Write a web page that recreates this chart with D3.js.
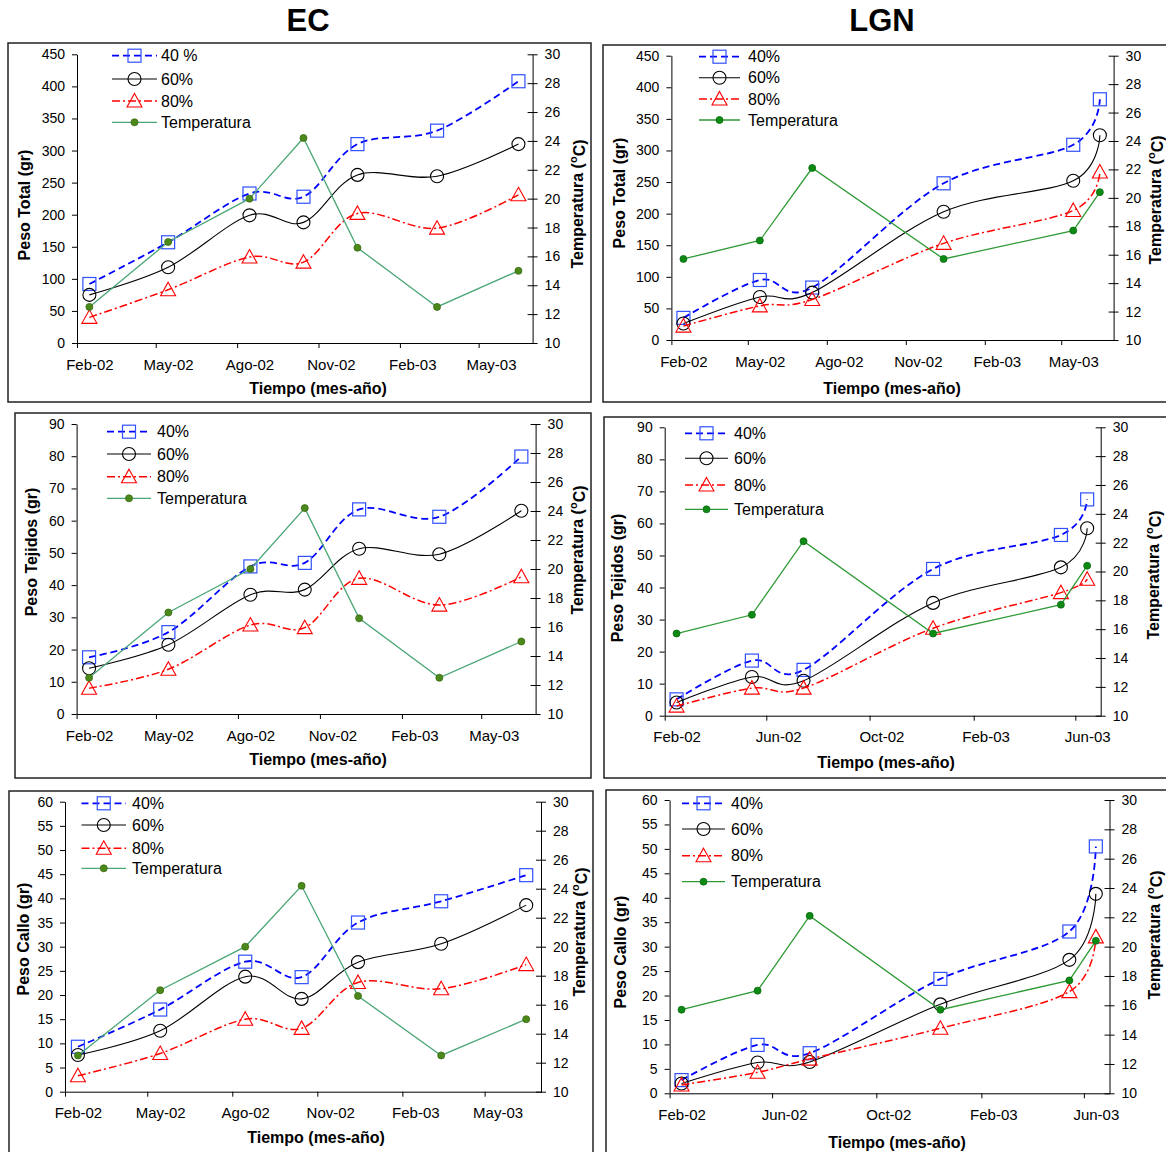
<!DOCTYPE html>
<meta charset="utf-8">
<style>
	body { margin: 0; background: white; }
	text { font-family: Arial, "Liberation Sans", sans-serif; fill: black; }
	.frame { fill: none; stroke: #222; stroke-width: 1.5px; }
	.axis path, .axis line { stroke: black; stroke-width: 1px; }
	.axis text { font-family: Arial, "Liberation Sans", sans-serif; font-size: 14px; }
	.xaxis text { font-size: 15px; }
	.title { font-size: 31px; font-weight: bold; }
	.axislabel { font-size: 16px; font-weight: bold; }
	.legend text { font-size: 16px; }
</style>
<html>
<body>
<script src="https://d3js.org/d3.v7.min.js"></script>
<script>
	var width = 1166;
	var height = 1152;

	// fechas de muestreo
	var ecDates = ["2002-02-15","2002-05-15","2002-08-15","2002-10-15","2002-12-15","2003-03-15","2003-06-15"];
	var lgnDates = ["2002-02-15","2002-05-15","2002-07-15","2002-12-15","2003-05-15","2003-06-15"];

	// EC
	var ecTotal40 = [92, 157, 233, 228, 310, 331, 408];
	var ecTotal60 = [75, 118, 199, 188, 262, 260, 310];
	var ecTotal80 = [40, 83, 134, 126, 202, 179, 231];
	var ecTejidos40 = [17.6, 25.4, 45.8, 46.9, 63.5, 61.2, 79.9];
	var ecTejidos60 = [14.2, 21.5, 37.0, 38.6, 51.3, 49.6, 63.1];
	var ecTejidos80 = [8.0, 13.9, 27.6, 26.8, 42.1, 33.8, 42.6];
	var ecCallo40 = [9.3, 17.0, 26.9, 23.7, 35.0, 39.4, 44.8];
	var ecCallo60 = [7.6, 12.6, 23.8, 19.2, 26.8, 30.6, 38.6];
	var ecCallo80 = [3.3, 7.9, 15.0, 13.1, 22.6, 21.3, 26.3];
	var ecTemp = [12.5, 17.0, 20.0, 24.2, 16.6, 12.5, 15.0];

	// LGN
	var lgnTotal40 = [35, 95, 83, 248, 309, 381];
	var lgnTotal60 = [26, 68, 75, 203, 252, 324];
	var lgnTotal80 = [22, 54, 64, 153, 205, 266];
	var lgnTejidos40 = [5.1, 17.2, 14.3, 45.8, 56.4, 67.5];
	var lgnTejidos60 = [4.1, 12.1, 10.9, 35.2, 46.3, 58.5];
	var lgnTejidos80 = [3.0, 8.6, 8.6, 27.3, 38.4, 42.6];
	var lgnCallo40 = [2.7, 9.9, 8.2, 23.4, 33.1, 50.5];
	var lgnCallo60 = [2.0, 6.3, 6.4, 18.2, 27.3, 40.8];
	var lgnCallo80 = [1.7, 4.3, 7.0, 13.3, 20.8, 32.0];
	var lgnTemp = [15.7, 17.0, 22.1, 15.7, 17.7, 20.4];

	// ejes
	var tickDates3 = ["2002-02-01","2002-05-01","2002-08-01","2002-11-01","2003-02-01","2003-05-01"];
	var tickLabels3 = ["Feb-02","May-02","Ago-02","Nov-02","Feb-03","May-03"];
	var tickDates4 = ["2002-02-01","2002-06-01","2002-10-01","2003-02-01","2003-06-01"];
	var tickLabels4 = ["Feb-02","Jun-02","Oct-02","Feb-03","Jun-03"];
	var totalTicks = [0, 50, 100, 150, 200, 250, 300, 350, 400, 450];
	var tejidosTicks = [0, 10, 20, 30, 40, 50, 60, 70, 80, 90];
	var calloTicks = [0, 5, 10, 15, 20, 25, 30, 35, 40, 45, 50, 55, 60];
	var tempTicks = [10, 12, 14, 16, 18, 20, 22, 24, 26, 28, 30];
	var seriesNames = ["40%", "60%", "80%", "Temperatura"];

	var parse = d3.timeParse("%Y-%m-%d");

	var panels = [
		{dates: ecDates, s40: ecTotal40, s60: ecTotal60, s80: ecTotal80, temp: ecTemp, yTicks: totalTicks, ylab: "Peso Total (gr)",
		 tickDates: tickDates3, tickLabels: tickLabels3, first: "40 %", lgn: false,
		 frame: [8, 43, 583, 359], plot: [77, 532.6, 54.3, 343], leg: [112, 157, 161, 55.7, 79, 101, 122.3],
		 ly: [24, 205], ry: [577, 204], xt: [318, 388]},
		{dates: lgnDates, s40: lgnTotal40, s60: lgnTotal60, s80: lgnTotal80, temp: lgnTemp, yTicks: totalTicks, ylab: "Peso Total (gr)",
		 tickDates: tickDates3, tickLabels: tickLabels3, first: "40%", lgn: true,
		 frame: [603, 45, 580, 357], plot: [671.4, 1113.6, 55.7, 340], leg: [699, 740, 748, 56.7, 77.7, 99, 120],
		 ly: [619, 193], ry: [1155, 200], xt: [892, 388]},
		{dates: ecDates, s40: ecTejidos40, s60: ecTejidos60, s80: ecTejidos80, temp: ecTemp, yTicks: tejidosTicks, ylab: "Peso Tejidos (gr)",
		 tickDates: tickDates3, tickLabels: tickLabels3, first: "40%", lgn: false,
		 frame: [15, 413, 576, 365], plot: [76.6, 535.6, 424, 714], leg: [107, 151, 157, 431.7, 454, 476.7, 498.3],
		 ly: [31, 552], ry: [577, 550], xt: [318, 759]},
		{dates: lgnDates, s40: lgnTejidos40, s60: lgnTejidos60, s80: lgnTejidos80, temp: lgnTemp, yTicks: tejidosTicks, ylab: "Peso Tejidos (gr)",
		 tickDates: tickDates4, tickLabels: tickLabels4, first: "40%", lgn: true,
		 frame: [604, 417, 580, 361], plot: [664.7, 1100.7, 427.3, 715.7], leg: [685, 728, 734, 433.3, 458.3, 485, 509.3],
		 ly: [617, 578], ry: [1153, 575], xt: [886, 762]},
		{dates: ecDates, s40: ecCallo40, s60: ecCallo60, s80: ecCallo80, temp: ecTemp, yTicks: calloTicks, ylab: "Peso Callo (gr)",
		 tickDates: tickDates3, tickLabels: tickLabels3, first: "40%", lgn: false,
		 frame: [9, 791, 584, 380], plot: [65, 541, 801.7, 1091.7], leg: [81.5, 126, 132, 803.3, 825, 848.3, 868.3],
		 ly: [23, 939], ry: [579, 932], xt: [316, 1137]},
		{dates: lgnDates, s40: lgnCallo40, s60: lgnCallo60, s80: lgnCallo80, temp: lgnTemp, yTicks: calloTicks, ylab: "Peso Callo (gr)",
		 tickDates: tickDates4, tickLabels: tickLabels4, first: "40%", lgn: true,
		 frame: [606, 790, 580, 380], plot: [669.6, 1109.5, 800, 1093.3], leg: [682, 725, 731, 803.3, 829, 855.7, 881.7],
		 ly: [620, 952], ry: [1154, 935], xt: [897, 1142]}
	];

	var svg = d3.select("body")
		.append("svg")
		.attr("width", width)
		.attr("height", height)
		.style("background-color", "white");

	svg.append("text").attr("class", "title").attr("x", 308).attr("y", 31).attr("text-anchor", "middle").text("EC");
	svg.append("text").attr("class", "title").attr("x", 882).attr("y", 31).attr("text-anchor", "middle").text("LGN");

	var blue = "#0000ff", red = "#ff0000";

	function marker(g, kind, x, y, color){
		if (kind == "square") {
			g.append("rect").attr("x", x - 6.5).attr("y", y - 6.5).attr("width", 13).attr("height", 13)
				.attr("fill", "none").attr("stroke", "#3050ff").attr("stroke-width", 1.2);
		} else if (kind == "circle") {
			g.append("circle").attr("cx", x).attr("cy", y).attr("r", 6.5)
				.attr("fill", "none").attr("stroke", "black").attr("stroke-width", 1.1);
		} else if (kind == "triangle") {
			g.append("path").attr("d", `M${x},${y-7.5}L${x+7.5},${y+6}L${x-7.5},${y+6}Z`)
				.attr("fill", "none").attr("stroke", red).attr("stroke-width", 1.1);
		} else {
			g.append("circle").attr("cx", x).attr("cy", y).attr("r", 3.5)
				.attr("fill", color.dot).attr("stroke", color.dotStroke).attr("stroke-width", 0.8);
		}
	}

	panels.forEach(function(p){
		var g = svg.append("g");

		g.append("rect").attr("class", "frame")
			.attr("x", p.frame[0]).attr("y", p.frame[1]).attr("width", p.frame[2]).attr("height", p.frame[3]);

		var x = d3.scaleTime()
			.domain([parse("2002-02-01"), parse("2003-07-01")])
			.range([p.plot[0], p.plot[1]]);
		var y = d3.scaleLinear().domain([0, d3.max(p.yTicks)]).range([p.plot[3], p.plot[2]]);
		var y2 = d3.scaleLinear().domain([10, 30]).range([p.plot[3], p.plot[2]]);

		var halfMonth = x(parse("2002-02-15")) - x(parse("2002-02-01"));

		var xa = g.append("g").attr("class", "axis xaxis")
			.attr("transform", `translate(0,${p.plot[3]})`)
			.call(d3.axisBottom(x)
				.tickValues(p.tickDates.map(parse))
				.tickFormat(function(d, i){ return p.tickLabels[i]; })
				.tickSize(5).tickSizeOuter(0).tickPadding(11));
		xa.selectAll("text").attr("x", halfMonth);

		g.append("g").attr("class", "axis")
			.attr("transform", `translate(${p.plot[0]},0)`)
			.call(d3.axisLeft(y).tickValues(p.yTicks).tickSize(5).tickSizeOuter(0).tickPadding(7));

		var ra = g.append("g").attr("class", "axis")
			.attr("transform", `translate(${p.plot[1]},0)`)
			.call(d3.axisRight(y2).tickValues(tempTicks).tickSize(5).tickSizeOuter(0).tickPadding(7));
		ra.selectAll(".tick line").attr("x1", -5);

		// titulos de ejes
		g.append("text").attr("class", "axislabel")
			.attr("transform", `translate(${p.ly[0]},${p.ly[1]}) rotate(-90)`)
			.attr("text-anchor", "middle").attr("dy", "0.35em")
			.text(p.ylab);

		var rt = g.append("text").attr("class", "axislabel")
			.attr("transform", `translate(${p.ry[0]},${p.ry[1]}) rotate(-90)`)
			.attr("text-anchor", "middle").attr("dy", "0.35em");
		rt.append("tspan").text("Temperatura (");
		rt.append("tspan").text("o").style("font-size", "11px").attr("dy", "-0.55em");
		rt.append("tspan").text("C)").attr("dy", "0.55em");

		g.append("text").attr("class", "axislabel")
			.attr("x", p.xt[0]).attr("y", p.xt[1]).attr("dy", "0.35em")
			.attr("text-anchor", "middle")
			.text("Tiempo (mes-año)");

		var dates = p.dates.map(parse);
		var tcol = p.lgn ? {line: "#2f9a35", dot: "#0d8a14", dotStroke: "#0b6b10"}
		                 : {line: "#4aa676", dot: "#4b8a1a", dotStroke: "#3a6a12"};

		var smooth = d3.line().curve(d3.curveCatmullRom.alpha(0));
		var straight = d3.line();

		var styles = [
			{vals: p.s40, scale: y, color: blue, dash: "7,4", w: 1.8, kind: "square", line: smooth},
			{vals: p.s60, scale: y, color: "black", dash: null, w: 1.1, kind: "circle", line: smooth},
			{vals: p.s80, scale: y, color: red, dash: "8,3,2,3", w: 1.5, kind: "triangle", line: smooth},
			{vals: p.temp, scale: y2, color: tcol.line, dash: null, w: 1.3, kind: "dot", line: straight}
		];

		styles.forEach(function(s){
			var pts = s.vals.map(function(v, i){ return [x(dates[i]), s.scale(v)]; });
			g.append("path")
				.attr("d", s.line(pts))
				.attr("fill", "none")
				.attr("stroke", s.color)
				.attr("stroke-width", s.w)
				.attr("stroke-dasharray", s.dash);
			pts.forEach(function(q){ marker(g, s.kind, q[0], q[1], tcol); });
		});

		// leyenda
		var lg = g.append("g").attr("class", "legend");
		styles.forEach(function(s, i){
			var ly = p.leg[3 + i];
			lg.append("line")
				.attr("x1", p.leg[0]).attr("x2", p.leg[1]).attr("y1", ly).attr("y2", ly)
				.attr("stroke", s.color).attr("stroke-width", s.w)
				.attr("stroke-dasharray", s.dash);
			marker(lg, s.kind, (p.leg[0] + p.leg[1]) / 2, ly, tcol);
			lg.append("text")
				.attr("x", p.leg[2]).attr("y", ly).attr("dy", "0.36em")
				.text(i == 0 ? p.first : seriesNames[i]);
		});
	});
</script>
</body>
</html>
